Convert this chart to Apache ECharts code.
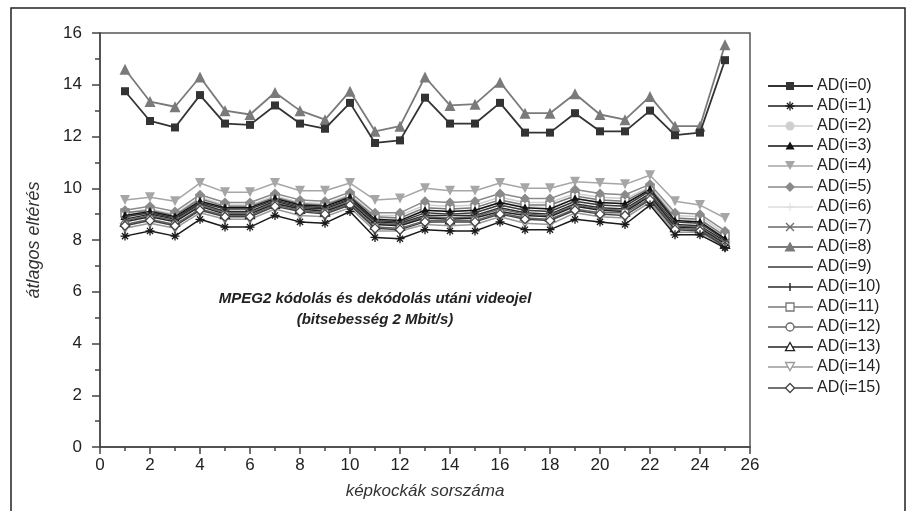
<!DOCTYPE html>
<html>
<head>
<meta charset="utf-8">
<script src="https://cdn.jsdelivr.net/npm/echarts@6/dist/echarts.min.js"></script>
<style>html,body{margin:0;padding:0;background:#fff}#c{width:915px;height:511px}</style>
</head>
<body>
<div id="c"></div>
<script>
// frame numbers (x axis)
const frames = [1,2,3,4,5,6,7,8,9,10,11,12,13,14,15,16,17,18,19,20,21,22,23,24,25];
const seriesNames = ['AD(i=0)','AD(i=1)','AD(i=2)','AD(i=3)','AD(i=4)','AD(i=5)','AD(i=6)','AD(i=7)','AD(i=8)','AD(i=9)','AD(i=10)','AD(i=11)','AD(i=12)','AD(i=13)','AD(i=14)','AD(i=15)'];
const ad0  = [13.75,12.6,12.35,13.6,12.5,12.45,13.2,12.5,12.3,13.3,11.75,11.85,13.5,12.5,12.5,13.3,12.15,12.15,12.9,12.2,12.2,13.0,12.05,12.15,14.95];
const ad8  = [14.6,13.35,13.15,14.3,13.0,12.85,13.7,13.0,12.65,13.75,12.2,12.4,14.3,13.2,13.25,14.1,12.9,12.9,13.65,12.85,12.65,13.55,12.4,12.4,15.55];
const ad1  = [8.15,8.35,8.15,8.8,8.5,8.5,8.95,8.7,8.65,9.1,8.1,8.05,8.4,8.35,8.35,8.7,8.4,8.4,8.8,8.7,8.6,9.35,8.2,8.2,7.7];
const ad2  = [9.05,9.2,9.0,9.65,9.35,9.35,9.7,9.45,9.4,9.75,8.95,8.95,9.35,9.3,9.35,9.65,9.45,9.45,9.8,9.65,9.6,10.05,8.95,8.9,8.25];
const ad3  = [8.95,9.1,8.9,9.5,9.25,9.25,9.6,9.35,9.3,9.65,8.8,8.75,9.15,9.1,9.15,9.45,9.25,9.2,9.6,9.45,9.4,9.95,8.75,8.7,8.05];
const ad4  = [9.55,9.65,9.5,10.2,9.85,9.85,10.2,9.9,9.9,10.2,9.55,9.6,10.0,9.9,9.9,10.2,10.0,10.0,10.25,10.2,10.15,10.5,9.5,9.35,8.85];
const ad5  = [9.15,9.3,9.1,9.75,9.45,9.45,9.8,9.55,9.5,9.85,9.05,9.05,9.5,9.45,9.5,9.8,9.6,9.6,9.95,9.8,9.75,10.15,9.05,9.0,8.35];
const ad6  = [8.95,9.1,8.95,9.55,9.25,9.25,9.65,9.4,9.35,9.7,8.85,8.8,9.15,9.1,9.15,9.45,9.3,9.25,9.6,9.45,9.4,9.95,8.8,8.75,8.1];
const ad7  = [8.75,8.95,8.75,9.35,9.05,9.05,9.45,9.2,9.15,9.5,8.65,8.6,8.9,8.85,8.9,9.2,9.0,8.95,9.35,9.2,9.15,9.75,8.55,8.5,7.9];
const ad9  = [8.9,9.05,8.85,9.45,9.2,9.2,9.55,9.3,9.25,9.6,8.75,8.7,9.05,9.0,9.05,9.35,9.15,9.1,9.5,9.35,9.3,9.9,8.7,8.65,8.0];
const ad10 = [8.8,9.0,8.8,9.4,9.1,9.1,9.5,9.25,9.2,9.55,8.7,8.65,8.95,8.95,8.95,9.25,9.05,9.0,9.4,9.25,9.2,9.8,8.6,8.55,7.95];
const ad11 = [9.05,9.15,8.95,9.6,9.3,9.3,9.65,9.4,9.35,9.7,8.9,8.85,9.25,9.2,9.25,9.55,9.35,9.35,9.7,9.55,9.5,10.0,8.85,8.8,8.15];
const ad12 = [8.6,8.8,8.6,9.2,8.95,8.95,9.35,9.15,9.05,9.4,8.5,8.45,8.75,8.75,8.75,9.05,8.85,8.8,9.2,9.05,9.05,9.6,8.45,8.4,7.8];
const ad13 = [8.7,8.9,8.7,9.3,9.0,9.0,9.4,9.2,9.1,9.45,8.6,8.55,8.85,8.8,8.85,9.1,8.95,8.9,9.3,9.15,9.1,9.7,8.5,8.45,7.85];
const ad14 = [8.45,8.65,8.45,9.05,8.8,8.8,9.2,8.95,8.9,9.25,8.35,8.35,8.6,8.55,8.6,8.9,8.65,8.6,9.05,8.9,8.85,9.45,8.3,8.3,7.75];
const ad15 = [8.55,8.75,8.55,9.15,8.9,8.9,9.3,9.1,9.0,9.35,8.45,8.4,8.7,8.7,8.7,9.0,8.8,8.75,9.15,9.0,8.95,9.55,8.4,8.35,7.75];
const annotation1 = 'MPEG2 kódolás és dekódolás utáni videojel';
const annotation2 = '(bitsebesség 2 Mbit/s)';
const xTitle = 'képkockák sorszáma';
const yTitle = 'átlagos eltérés';

const allData = [ad0,ad1,ad2,ad3,ad4,ad5,ad6,ad7,ad8,ad9,ad10,ad11,ad12,ad13,ad14,ad15];

// unit-square marker shapes (0..10): filled polygons or stroked segments
const SHAPES = {
  rect:  { poly: [[0,0],[10,0],[10,10],[0,10]] },
  tri:   { poly: [[5,0],[10,9],[0,9]] },
  down:  { poly: [[0,0],[10,0],[5,9]] },
  diam:  { poly: [[5,0],[10,5],[5,10],[0,5]] },
  circ:  { circle: true },
  star:  { segs: [[[5,0],[5,10]],[[0,5],[10,5]],[[1.6,1.6],[8.4,8.4]],[[8.4,1.6],[1.6,8.4]]] },
  cross: { segs: [[[0,0],[10,10]],[[10,0],[0,10]]] },
  bar:   { segs: [[[5,0],[5,10]]] },
  plus:  { segs: [[[5,0],[5,10]],[[0,5],[10,5]]] }
};
function shapePath(key) {
  const s = SHAPES[key];
  if (s.circle) return 'path://M10,5 A5,5 0 1 1 0,5 A5,5 0 1 1 10,5 Z';
  if (s.poly) return 'path://M' + s.poly.map(p => p.join(',')).join(' L') + ' Z';
  return 'path://' + s.segs.map(sg => 'M' + sg[0].join(',') + ' L' + sg[1].join(',')).join(' ');
}

// style per series: [lineColor, shapeKey, size, fill, border, borderWidth, lineWidth]
const styles = [
  ['#333333','rect',8,'#333333','#333333',0,1.8],
  ['#1a1a1a','star',9,'none','#1a1a1a',1.3,1.5],
  ['#cfcfcf','circ',9,'#cfcfcf','#cfcfcf',0,1.5],
  ['#111111','tri',9,'#111111','#111111',0,1.5],
  ['#a6a6a6','down',10,'#a6a6a6','#a6a6a6',0,1.5],
  ['#8a8a8a','diam',10,'#8a8a8a','#8a8a8a',0,1.5],
  ['#dcdcdc','plus',8,'none','#dcdcdc',1,1.5],
  ['#6a6a6a','cross',8,'none','#6a6a6a',1.3,1.5],
  ['#7a7a7a','tri',11,'#7a7a7a','#7a7a7a',0,1.8],
  ['#3a3a3a',null,0,'#3a3a3a','#3a3a3a',0,1.5],
  ['#2a2a2a','bar',8,'none','#2a2a2a',1.5,1.5],
  ['#777777','rect',8,'#ffffff','#777777',1.3,1.5],
  ['#666666','circ',8,'#ffffff','#666666',1.3,1.5],
  ['#222222','tri',9,'#ffffff','#222222',1.3,1.5],
  ['#9a9a9a','down',9,'#ffffff','#9a9a9a',1.3,1.5],
  ['#444444','diam',9,'#ffffff','#444444',1.3,1.5]
];

const drawOrder = [14,6,2,4,11,5,3,9,10,7,13,12,15,1,8,0];
const series = [];
for (let k = 0; k < seriesNames.length; k++) {
  const s = styles[k];
  series.push({
    name: seriesNames[k],
    type: 'line',
    data: frames.map((f, j) => [f, allData[k][j]]),
    symbol: s[1] ? shapePath(s[1]) : 'none',
    symbolSize: s[2],
    showSymbol: !!s[1],
    z: 2 + drawOrder.indexOf(k) * 0.01,
    lineStyle: { color: s[0], width: s[6] },
    itemStyle: { color: s[3] === 'none' ? 'transparent' : s[3], borderColor: s[4], borderWidth: s[5] },
    emphasis: { disabled: true }
  });
}

// manual legend built from graphic primitives
const legendEls = [];
const LX0 = 768, LX1 = 813, LXS = 790, LXT = 817, LY0 = 86, LDY = 20.1;
for (let k = 0; k < seriesNames.length; k++) {
  const s = styles[k];
  const y = Math.round(LY0 + k * LDY);
  legendEls.push({ type: 'line', shape: { x1: LX0, y1: y, x2: LX1, y2: y }, style: { stroke: s[0], lineWidth: s[6] }, silent: true });
  if (s[1]) {
    const sh = SHAPES[s[1]], sz = s[2], sc = sz / 10, ox = LXS - sz / 2, oy = y - sz / 2;
    const tr = p => [ox + p[0] * sc, oy + p[1] * sc];
    const st = { fill: s[3], stroke: s[5] > 0 ? s[4] : null, lineWidth: s[5] };
    if (sh.circle) legendEls.push({ type: 'circle', shape: { cx: LXS, cy: y, r: sz / 2 }, style: st, silent: true, z: 10 });
    else if (sh.poly) legendEls.push({ type: 'polygon', shape: { points: sh.poly.map(tr) }, style: st, silent: true, z: 10 });
    else sh.segs.forEach(sg => legendEls.push({ type: 'polyline', shape: { points: sg.map(tr) }, style: { stroke: s[4], lineWidth: s[5], fill: null }, silent: true, z: 10 }));
  }
  legendEls.push({ type: 'text', x: LXT, y: y, style: { text: seriesNames[k], font: '16px "Liberation Sans"', fill: '#222', textAlign: 'left', textVerticalAlign: 'middle' }, silent: true });
}

const chart = echarts.init(document.getElementById('c'), null, { renderer: 'canvas' });
chart.setOption({
  animation: false,
  backgroundColor: '#ffffff',
  grid: { left: 100, top: 33, right: 165, bottom: 64, show: true, borderColor: '#555555', borderWidth: 1.5 },
  xAxis: {
    type: 'value', min: 0, max: 26, interval: 2,
    name: xTitle, nameLocation: 'middle', nameGap: 36,
    nameTextStyle: { fontFamily: 'Liberation Sans', fontStyle: 'italic', fontSize: 17, color: '#333' },
    axisLine: { show: true, lineStyle: { color: '#444', width: 1.5 } },
    axisTick: { show: true, inside: false, length: 7, lineStyle: { color: '#444', width: 1.5 } },
    minorTick: { show: true, splitNumber: 2, length: 4, lineStyle: { color: '#444', width: 1.5 } },
    splitLine: { show: false },
    axisLabel: { fontFamily: 'Liberation Sans', fontSize: 17, color: '#222', margin: 10 }
  },
  yAxis: {
    type: 'value', min: 0, max: 16, interval: 2,
    name: yTitle, nameLocation: 'middle', nameGap: 57, nameRotate: 90,
    nameTextStyle: { fontFamily: 'Liberation Sans', fontStyle: 'italic', fontSize: 18, color: '#333' },
    axisLine: { show: true, lineStyle: { color: '#444', width: 1.5 } },
    axisTick: { show: true, inside: false, length: 8, lineStyle: { color: '#444', width: 1.5 } },
    minorTick: { show: true, splitNumber: 2, length: 5, lineStyle: { color: '#444', width: 1.5 } },
    splitLine: { show: false },
    axisLabel: { fontFamily: 'Liberation Sans', fontSize: 17, color: '#222', margin: 18 }
  },
  graphic: [
    { type: 'rect', shape: { x: 11, y: 8, width: 894, height: 540 }, style: { fill: 'none', stroke: '#222', lineWidth: 1.5 }, silent: true },
    { type: 'text', x: 375, y: 299, style: { text: annotation1, font: 'italic bold 15px "Liberation Sans"', fill: '#222', textAlign: 'center', textVerticalAlign: 'middle' } },
    { type: 'text', x: 375, y: 320, style: { text: annotation2, font: 'italic bold 15px "Liberation Sans"', fill: '#222', textAlign: 'center', textVerticalAlign: 'middle' } }
  ].concat(legendEls),
  series: series
});
</script>
</body>
</html>
